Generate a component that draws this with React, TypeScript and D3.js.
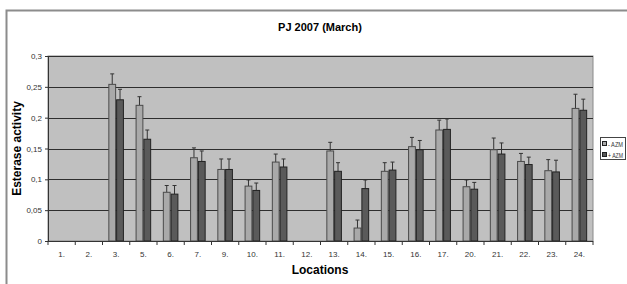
import { useEffect, useRef } from 'react'
import * as d3 from 'd3'

const locations = ['1.', '2.', '3.', '5.', '6.', '7.', '9.', '10.', '11.', '12.', '13.', '14.', '15.', '16.', '17.', '20.', '21.', '22.', '23.', '24.']
// null = no measurement
const minusAzm = [null, null, 0.254, 0.22, 0.079, 0.135, 0.116, 0.089, 0.128, null, 0.146, 0.021, 0.113, 0.153, 0.18, 0.088, 0.148, 0.129, 0.114, 0.215]
const minusAzmErr = [null, null, 0.017, 0.014, 0.011, 0.016, 0.017, 0.01, 0.013, null, 0.014, 0.013, 0.014, 0.015, 0.016, 0.011, 0.019, 0.013, 0.018, 0.023]
const plusAzm = [null, null, 0.229, 0.165, 0.076, 0.129, 0.116, 0.082, 0.12, null, 0.113, 0.085, 0.115, 0.148, 0.181, 0.084, 0.141, 0.124, 0.112, 0.212]
const plusAzmErr = [null, null, 0.017, 0.015, 0.014, 0.017, 0.017, 0.012, 0.013, null, 0.014, 0.014, 0.013, 0.015, 0.017, 0.011, 0.018, 0.012, 0.019, 0.018]
const yTicks = [0, 0.05, 0.1, 0.15, 0.2, 0.25, 0.3]
const seriesNames = ['- AZM', '+ AZM']

export default function App() {
  const ref = useRef<SVGSVGElement>(null)

  useEffect(() => {
    const svg = d3.select(ref.current)
    svg.selectAll('*').remove()
    const W = 627, H = 284
    const m = { left: 48, right: 34, top: 56, bottom: 43 }
    const innerW = W - m.left - m.right
    const innerH = H - m.top - m.bottom
    const font = 'Arial, "Liberation Sans", sans-serif'

    // outer chart frame
    svg.append('rect').attr('x', 6.5).attr('y', 10.5).attr('width', 640).attr('height', 300)
      .attr('fill', '#fff').attr('stroke', '#8c8c8c').attr('stroke-width', 2)

    const g = svg.append('g').attr('transform', `translate(${m.left},${m.top})`)
    const x = d3.scaleBand().domain(locations).range([0, innerW]).paddingInner(0).paddingOuter(0)
    const x1 = d3.scaleBand().domain(seriesNames).range([0, x.bandwidth()]).paddingInner(0).paddingOuter(0.75)
    const y = d3.scaleLinear().domain([0, 0.3]).range([innerH, 0])

    g.append('rect').attr('width', innerW).attr('height', innerH).attr('fill', '#c0c0c0')
      .attr('stroke', '#8a8a8a')

    g.selectAll('line.grid').data(yTicks.slice(1)).join('line').attr('class', 'grid')
      .attr('x1', 0).attr('x2', innerW)
      .attr('y1', d => Math.round(y(d)) + 0.5).attr('y2', d => Math.round(y(d)) + 0.5)
      .attr('stroke', '#2e2e2e').attr('stroke-width', 1)

    const series = [
      { name: seriesNames[0], vals: minusAzm, errs: minusAzmErr, fill: '#a9a9a9', stroke: '#4a4a4a' },
      { name: seriesNames[1], vals: plusAzm, errs: plusAzmErr, fill: '#5a5a5a', stroke: '#222' },
    ]

    series.forEach(s => {
      const pts = locations.map((loc, i) => ({ loc, v: s.vals[i], e: s.errs[i] })).filter(d => d.v != null) as { loc: string; v: number; e: number }[]
      const bx = (d: { loc: string }) => (x(d.loc) || 0) + (x1(s.name) || 0)
      // error bars (upper only)
      g.selectAll(null).data(pts).join('line')
        .attr('x1', d => bx(d) + x1.bandwidth() / 2).attr('x2', d => bx(d) + x1.bandwidth() / 2)
        .attr('y1', d => y(d.v)).attr('y2', d => y(d.v + d.e))
        .attr('stroke', '#333').attr('stroke-width', 1)
      g.selectAll(null).data(pts).join('line')
        .attr('x1', d => bx(d) + x1.bandwidth() / 2 - 2).attr('x2', d => bx(d) + x1.bandwidth() / 2 + 2)
        .attr('y1', d => y(d.v + d.e)).attr('y2', d => y(d.v + d.e))
        .attr('stroke', '#333').attr('stroke-width', 1)
      g.selectAll(null).data(pts).join('rect')
        .attr('x', d => bx(d) + 0.5).attr('y', d => y(d.v))
        .attr('width', x1.bandwidth() - 1).attr('height', d => innerH - y(d.v))
        .attr('fill', s.fill).attr('stroke', s.stroke).attr('stroke-width', 1)
    })

    // y axis
    const yAxis = g.append('g').call(d3.axisLeft(y).tickValues(yTicks).tickSize(3)
      .tickFormat(d => (d === 0 ? '0' : String(d).replace('.', ','))))
    yAxis.select('.domain').attr('stroke', '#333')
    yAxis.selectAll('line').attr('stroke', '#333')
    yAxis.selectAll('text').attr('font-family', font).attr('font-size', 8).attr('fill', '#333')

    // x axis: ticks at category boundaries
    const xa = g.append('g').attr('transform', `translate(0,${innerH})`)
    xa.append('line').attr('x1', 0).attr('x2', innerW).attr('y1', 0.5).attr('y2', 0.5).attr('stroke', '#333')
    const bounds = d3.range(locations.length + 1).map(i => i * x.step())
    xa.selectAll('line.tk').data(bounds).join('line').attr('class', 'tk')
      .attr('x1', d => d).attr('x2', d => d).attr('y1', 0).attr('y2', 4).attr('stroke', '#333')
    xa.selectAll('text').data(locations).join('text')
      .attr('x', d => (x(d) || 0) + x.bandwidth() / 2).attr('y', 16)
      .attr('text-anchor', 'middle').attr('font-family', font)
      .attr('font-size', 8).attr('fill', '#333').text(d => d)

    svg.append('text').attr('x', 320).attr('y', 31).attr('text-anchor', 'middle')
      .attr('font-family', font).attr('font-weight', 'bold').attr('font-size', 11).text('PJ 2007 (March)')
    svg.append('text').attr('x', 320).attr('y', 274).attr('text-anchor', 'middle')
      .attr('font-family', font).attr('font-weight', 'bold').attr('font-size', 12).text('Locations')
    svg.append('text').attr('transform', `translate(21,${m.top + innerH / 2}) rotate(-90)`).attr('text-anchor', 'middle')
      .attr('font-family', font).attr('font-weight', 'bold').attr('font-size', 12).text('Esterase activity')

    // legend
    const lg = svg.append('g').attr('transform', 'translate(600,137)')
    lg.append('rect').attr('x', 0.5).attr('y', 0.5).attr('width', 25).attr('height', 22)
      .attr('fill', '#fff').attr('stroke', '#444')
    series.forEach((s, i) => {
      lg.append('rect').attr('x', 2.5).attr('y', 4.5 + i * 11).attr('width', 4).attr('height', 4)
        .attr('fill', s.fill).attr('stroke', '#222')
      lg.append('text').attr('x', 8).attr('y', 9.5 + i * 11).attr('font-family', font)
        .attr('font-size', 7).attr('fill', '#333')
        .attr('textLength', 15).attr('lengthAdjust', 'spacingAndGlyphs').text(s.name)
    })
  }, [])

  return <svg ref={ref} width={627} height={284} style={{ position: 'absolute', left: 0, top: 0, background: '#fff' }} />
}
